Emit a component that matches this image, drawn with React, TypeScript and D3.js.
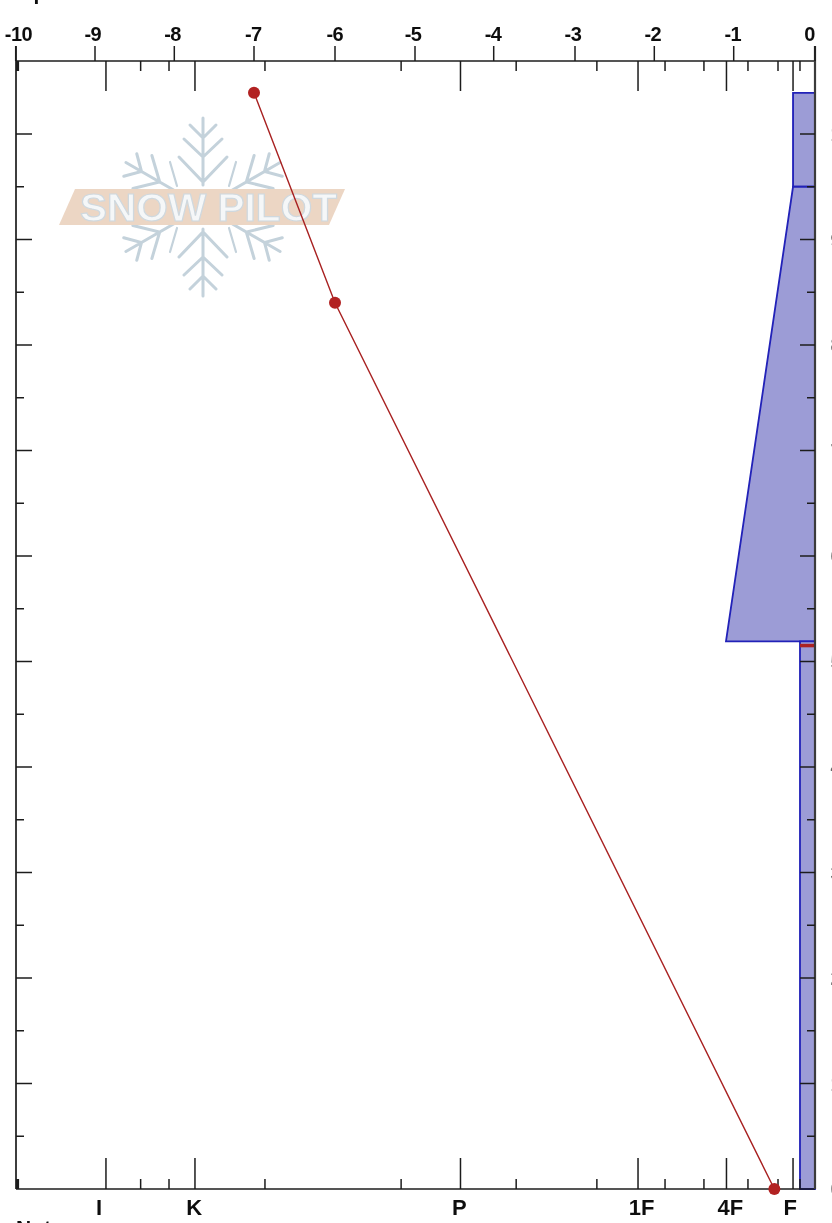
import React from "react";
import * as d3 from "d3";

// temperature axis values
const tempTicks = [-10, -9, -8, -7, -6, -5, -4, -3, -2, -1, 0];
const tempPixels = [15.7, 95, 174.3, 254, 335, 415, 493.7, 575, 654.3, 733.7, 815];
const tempLabelAt = [-9.97, -9.04, -8.04, -7.03, -6.01, -5.03, -4.03, -3.03, -2.03, -1.03, -0.07];
// depth axis values
const depthMajor = [0, 10, 20, 30, 40, 50, 60, 70, 80, 90, 100];
const depthMinor = [5, 15, 25, 35, 45, 55, 65, 75, 85, 95];
// hardness ticks expressed on the same horizontal scale
const hardLong = [-8.874, -7.76, -4.437, -2.215, -1.108, -0.275];
const hardShort = [-9.98, -8.44, -8.085, -6.884, -5.18, -3.74, -2.73, -1.877, -1.39, -0.839, -0.463, -0.188];
const hardLabels = ["I", "K", "P", "1F", "4F", "F"];
const hardLabelAt = [-8.96, -7.77, -4.45, -2.17, -1.06, -0.31];
// temperature profile
const tempValues = [-7, -6, -0.5];
const tempDepths = [103.9, 84, 0];
// layers: top depth, bottom depth, hardness at top, hardness at bottom
const layerTop = [103.9, 95, 51.9];
const layerBottom = [95, 51.9, 0];
const layerHardTop = [-0.275, -0.275, -0.188];
const layerHardBottom = [-0.275, -1.114, -0.188];
const criticalDepth = 51.7;
const criticalHard = -0.188;
// watermark arm angles
const mainArmAngles = [0, 180];
const sideArmAngles = [60, 120, 240, 300];

const x = d3.scaleLinear().domain([-10, 0]).range([16, 815]);
const xTemp = d3.scaleLinear().domain(tempTicks).range(tempPixels);
const y = d3.scaleLinear().domain([0, 100]).range([1189, 134]);
const TOP = 61;
const BOTTOM = 1189;
const font = "'Liberation Sans', Arial, sans-serif";
const ink = "#1c1c1c";

const line = d3.line<number>().x((_, i) => xTemp(tempValues[i])).y((_, i) => y(tempDepths[i]));

function Logo() {
  const cx = 203, cy = 207;
  const mainArm = "M0,-22V-89M-13,-82L0,-69L13,-82M-19,-68L0,-50L19,-68M-24,-50L0,-25L24,-50";
  const sideArm = "M0,-32V-89M-13,-84L0,-71L13,-84M-19,-70L0,-50L19,-70";
  const bits = "M170,162L177,186M236,162L229,186M177,228L170,252M229,228L236,252";
  return (
    <g>
      <g fill="none" stroke="#c4d2db" strokeWidth={3} strokeLinecap="round">
        {mainArmAngles.map((a) => (
          <path key={a} d={mainArm} transform={`translate(${cx},${cy}) rotate(${a})`} />
        ))}
        {sideArmAngles.map((a) => (
          <path key={a} d={sideArm} transform={`translate(${cx},${cy}) rotate(${a})`} />
        ))}
        <path d={bits} strokeWidth={2.2} />
      </g>
      <path d="M59,225L75,189H345L329,225Z" fill="#ecd6c4" />
      <text
        x={80} y={221} fontFamily="'Liberation Sans', sans-serif" fontWeight="bold" fontSize={39}
        textLength={257} lengthAdjust="spacingAndGlyphs"
        fill="#f5f7f8" stroke="#cfd8de" strokeWidth={1.2}
      >
        SNOW PILOT
      </text>
    </g>
  );
}

export default function App() {
  return (
    <svg
      width={832} height={1223} viewBox="0 0 832 1223"
      style={{ position: "absolute", left: 0, top: 0, display: "block", background: "#fff" }}
    >
      <defs>
        <filter id="soft" x="0" y="0" width="100%" height="100%">
          <feGaussianBlur stdDeviation="0.45" />
        </filter>
      </defs>
      <g filter="url(#soft)">
        <rect x={0} y={0} width={832} height={1223} fill="#fff" />
        <Logo />

        {layerTop.map((t, i) => (
          <path
            key={i}
            d={`M${x(layerHardTop[i])},${y(t)}L${x(0)},${y(t)}L${x(0)},${y(layerBottom[i])}L${x(layerHardBottom[i])},${y(layerBottom[i])}Z`}
            fill="#9c9cd6" stroke="#2020b8" strokeWidth={1.8}
          />
        ))}
        <line x1={x(criticalHard)} x2={x(0)} y1={y(criticalDepth) + 2} y2={y(criticalDepth) + 2} stroke="#ac2020" strokeWidth={3.5} />

        {/* axes frame */}
        <line x1={x(-10)} x2={x(0)} y1={TOP} y2={TOP} stroke={ink} strokeWidth={1.7} />
        <line x1={x(-10)} x2={x(0)} y1={BOTTOM} y2={BOTTOM} stroke={ink} strokeWidth={1.7} />
        <line x1={x(-10)} x2={x(-10)} y1={46} y2={BOTTOM} stroke={ink} strokeWidth={1.7} />
        <line x1={x(0)} x2={x(0)} y1={46} y2={BOTTOM} stroke="#3a3a3a" strokeWidth={2.2} />

        {/* temperature ticks */}
        {tempTicks.map((t, i) => (
          <g key={t}>
            <line x1={xTemp(t)} x2={xTemp(t)} y1={46} y2={TOP} stroke={ink} strokeWidth={1.5} />
            <text x={x(tempLabelAt[i])} y={41} textAnchor="middle" fontFamily={font} fontWeight="bold" fontSize={20} letterSpacing={-0.6} fill="#111">
              {t}
            </text>
          </g>
        ))}

        {/* hardness ticks */}
        {hardLong.map((h) => (
          <g key={h} stroke={ink} strokeWidth={1.5}>
            <line x1={x(h)} x2={x(h)} y1={TOP} y2={91} />
            <line x1={x(h)} x2={x(h)} y1={1158} y2={BOTTOM} />
          </g>
        ))}
        {hardShort.map((h, i) => (
          <g key={h} stroke={ink} strokeWidth={i === 0 ? 3 : 1.5}>
            <line x1={x(h)} x2={x(h)} y1={TOP} y2={71} />
            <line x1={x(h)} x2={x(h)} y1={1179} y2={BOTTOM} />
          </g>
        ))}
        {hardLabels.map((l, i) => (
          <text key={l} x={x(hardLabelAt[i])} y={1215} textAnchor="middle" fontFamily={font} fontWeight="bold" fontSize={22} fill="#111">
            {l}
          </text>
        ))}

        {/* depth ticks */}
        {depthMajor.map((d) => (
          <g key={d}>
            {d > 0 && <line x1={x(-10)} x2={x(-10) + 16} y1={y(d)} y2={y(d)} stroke={ink} strokeWidth={1.5} />}
            {d > 0 && <line x1={x(0) - 15} x2={x(0)} y1={y(d)} y2={y(d)} stroke={ink} strokeWidth={1.5} />}
            <text x={830.5} y={y(d) + 7} fontFamily={font} fontWeight="bold" fontSize={20} fill="#666">
              {d}
            </text>
          </g>
        ))}
        {depthMinor.map((d) => (
          <g key={d} stroke={ink} strokeWidth={1.5}>
            <line x1={x(-10)} x2={x(-10) + 8} y1={y(d)} y2={y(d)} />
            <line x1={x(0) - 8} x2={x(0)} y1={y(d)} y2={y(d)} />
          </g>
        ))}

        {/* temperature profile */}
        <path d={line(tempValues) ?? ""} fill="none" stroke="#a82020" strokeWidth={1.4} />
        {tempValues.map((t, i) => (
          <circle key={t} cx={xTemp(t)} cy={y(tempDepths[i])} r={6} fill="#b22222" />
        ))}

        {/* titles cut by the image edge */}
        <text x={-8} y={0} fontFamily={font} fontWeight="bold" fontSize={21} fill="#111">Temp</text>
        <text x={16} y={1235} fontFamily={font} fontWeight="bold" fontSize={21} fill="#111">Notes</text>
      </g>
    </svg>
  );
}
